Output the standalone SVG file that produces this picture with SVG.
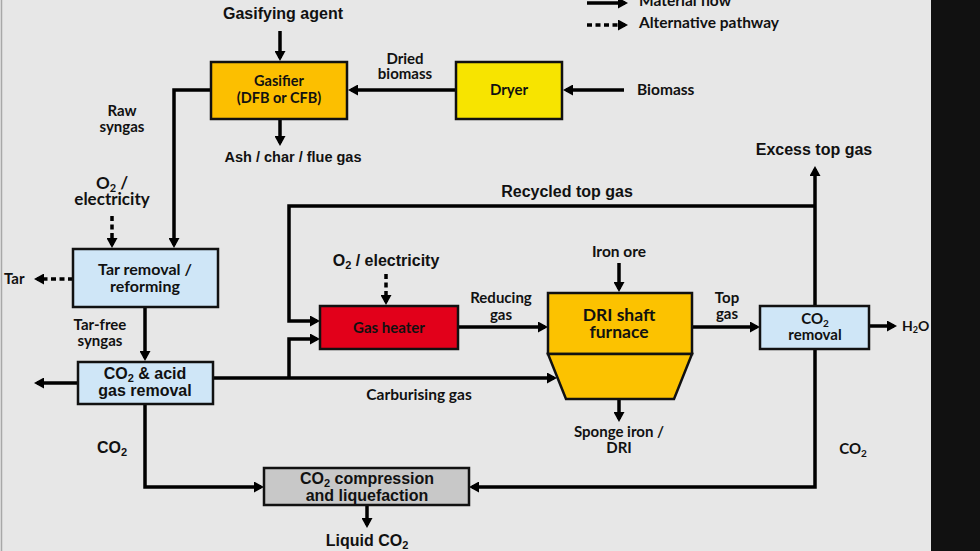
<svg xmlns="http://www.w3.org/2000/svg" width="980" height="551" viewBox="0 0 980 551">
<style>
.box{stroke:#111;stroke-width:2.5}
.ln{fill:none;stroke:#000;stroke-width:3.5;marker-end:url(#ah)}
.dash{stroke-dasharray:5,3.5}
.c{font-family:Lato,"Open Sans","Liberation Sans",sans-serif;font-weight:bold;font-size:15px;fill:#111;text-anchor:middle}
.a{font-family:"Liberation Sans",Arial,sans-serif;font-weight:bold;font-size:16px;fill:#111;text-anchor:middle}
.s{text-anchor:start}
</style>
<defs>
<marker id="ah" viewBox="0 0 10 11" refX="7" refY="5.5" markerWidth="10" markerHeight="11" markerUnits="userSpaceOnUse" orient="auto">
<path d="M0,0 L10,5.5 L0,11 Z" fill="#000"/>
</marker>
</defs>
<rect x="0" y="0" width="980" height="551" fill="#e7e7e7"/>
<line x1="1.5" y1="0" x2="1.5" y2="551" stroke="#a8a8a8" stroke-width="1.5"/>

<g id="legend">
<path class="ln" d="M587,3 H625"/>
<path class="ln dash" d="M587,25 H625"/>
<text class="c s" x="639" y="6" style="font-size:15.5px">Material flow</text>
<text class="c s" x="639" y="28" style="font-size:15.5px">Alternative pathway</text>
</g>

<g id="connectors">
<path class="ln" d="M280,31 V58"/>
<path class="ln" d="M280,119 V143"/>
<path class="ln" d="M456,90 H351"/>
<path class="ln" d="M624,90 H566"/>
<path class="ln" d="M211,90 H174 V245"/>
<path class="ln dash" d="M112,216 V245"/>
<path class="ln dash" d="M73,279 H37"/>
<path class="ln" d="M145,307 V358"/>
<path class="ln" d="M78,383 H37"/>
<path class="ln" d="M145,404 V487 H261"/>
<path class="ln" d="M213,378 H554"/>
<path class="ln" d="M289,378 V339 H317"/>
<path class="ln" d="M815,206 H289 V321 H317"/>
<path class="ln dash" d="M386,274 V302"/>
<path class="ln" d="M458,327 H545"/>
<path class="ln" d="M619,263 V289"/>
<path class="ln" d="M692,327 H757"/>
<path class="ln" d="M619,399 V419"/>
<path class="ln" d="M869,326 H894"/>
<path class="ln" d="M815,306 V169"/>
<path class="ln" d="M815,349 V487 H472"/>
<path class="ln" d="M367,505 V525"/>
</g>

<g id="gasifier">
<rect class="box" x="211" y="62" width="136" height="57" fill="#fcbf00"/>
<text class="c" x="279" y="86" style="font-size:14.5px">Gasifier</text>
<text class="c" x="279" y="103" style="font-size:14.5px">(DFB or CFB)</text>
</g>
<g id="dryer">
<rect class="box" x="456" y="62" width="106" height="57" fill="#f7e400"/>
<text class="c" x="509" y="95">Dryer</text>
</g>
<g id="tar-removal">
<rect class="box" x="73" y="249" width="145" height="58" fill="#cfe6f7"/>
<text class="c" x="145" y="275" style="font-size:16px">Tar removal /</text>
<text class="c" x="145" y="292" style="font-size:16px">reforming</text>
</g>
<g id="co2-acid">
<rect class="box" x="78" y="362" width="135" height="42" fill="#cfe6f7"/>
<text class="a" x="145" y="379">CO<tspan font-size="11" dy="3">2</tspan><tspan dy="-3"> &amp; acid</tspan></text>
<text class="a" x="145" y="396">gas removal</text>
</g>
<g id="gas-heater">
<rect class="box" x="320" y="306" width="138" height="43" fill="#e2001a"/>
<text class="c" x="389" y="333">Gas heater</text>
</g>
<g id="dri-furnace">
<rect class="box" x="548" y="293" width="144" height="61" fill="#fcc200"/>
<path class="box" d="M548,354 H692 L674,399 H566 Z" fill="#fcc200"/>
<text class="c" x="619" y="321" style="font-size:17.5px">DRI shaft</text>
<text class="c" x="619" y="338" style="font-size:17.5px">furnace</text>
</g>
<g id="co2-removal">
<rect class="box" x="760" y="306" width="109" height="43" fill="#cfe6f7"/>
<text class="c" x="815" y="324">CO<tspan font-size="10" dy="3">2</tspan></text>
<text class="c" x="815" y="340">removal</text>
</g>
<g id="co2-compression">
<rect class="box" x="264" y="468" width="205" height="37" fill="#c8c8c8"/>
<text class="a" x="367" y="484">CO<tspan font-size="11" dy="3">2</tspan><tspan dy="-3"> compression</tspan></text>
<text class="a" x="367" y="501">and liquefaction</text>
</g>

<g id="labels">
<text class="a" x="283" y="19">Gasifying agent</text>
<text class="a" x="293" y="162" style="font-size:14.5px">Ash / char / flue gas</text>
<text class="c" x="405" y="64">Dried</text>
<text class="c" x="405" y="79">biomass</text>
<text class="c s" x="637" y="95" style="font-size:15.5px">Biomass</text>
<text class="c" x="122" y="116">Raw</text>
<text class="c" x="122" y="132">syngas</text>
<text class="c" x="112" y="189" style="font-size:17px">O<tspan font-size="11" dy="3">2</tspan><tspan dy="-3"> /</tspan></text>
<text class="c" x="112" y="205" style="font-size:17px">electricity</text>
<text class="c s" x="4" y="284">Tar</text>
<text class="c" x="100" y="330">Tar-free</text>
<text class="c" x="100" y="346">syngas</text>
<text class="a" x="112" y="453">CO<tspan font-size="11" dy="3">2</tspan></text>
<text class="a" x="367" y="546">Liquid CO<tspan font-size="11" dy="3">2</tspan></text>
<text class="a" x="567" y="197">Recycled top gas</text>
<text class="a" x="814" y="155">Excess top gas</text>
<text class="a" x="386" y="266">O<tspan font-size="11" dy="3">2</tspan><tspan dy="-3"> / electricity</tspan></text>
<text class="c" x="501" y="303">Reducing</text>
<text class="c" x="501" y="320">gas</text>
<text class="c" x="419" y="400" style="font-size:15.5px">Carburising gas</text>
<text class="c" x="619" y="257" style="font-size:15.5px">Iron ore</text>
<text class="c" x="727" y="303">Top</text>
<text class="c" x="727" y="319">gas</text>
<text class="c" x="619" y="437">Sponge iron /</text>
<text class="c" x="619" y="453">DRI</text>
<text class="c s" x="902" y="331" style="font-size:14px">H<tspan font-size="9" dy="2">2</tspan><tspan dy="-2">O</tspan></text>
<text class="c" x="853" y="454">CO<tspan font-size="10" dy="3">2</tspan></text>
</g>
<rect x="931" y="0" width="49" height="551" fill="#111"/>
</svg>
